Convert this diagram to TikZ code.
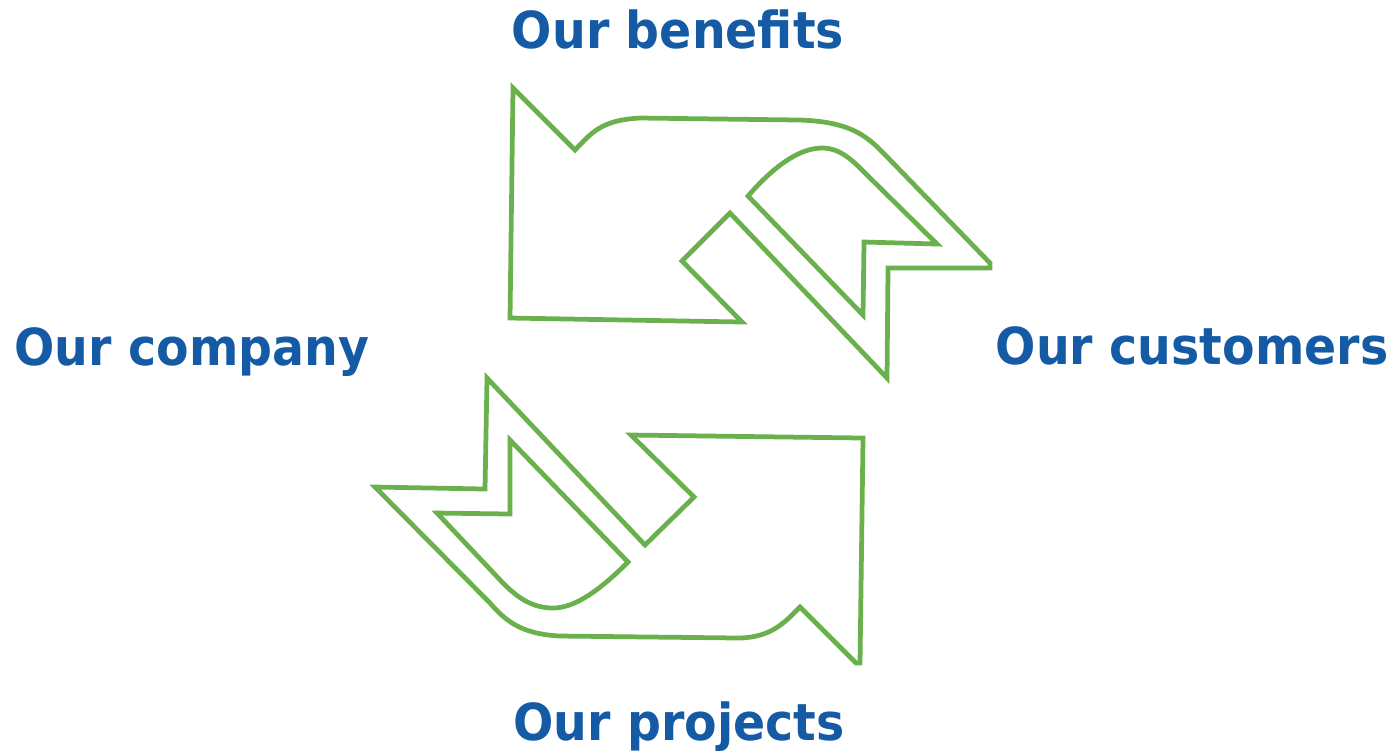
\documentclass[tikz,border=0pt]{standalone}
\usepackage{fontspec}
\setmainfont{DejaVu Sans}
\newfontfamily\labelfont[FakeStretch=0.93]{DejaVu Sans Bold}
\definecolor{labelblue}{RGB}{20,90,164}
\definecolor{arrowgreen}{RGB}{106,176,76}
\begin{document}
\begin{tikzpicture}[x=0.01cm,y=-0.01cm,
  lbl/.style={font=\labelfont\fontsize{14.5}{17}\selectfont, text=labelblue, anchor=base, inner sep=0pt},
  arr/.style={draw=arrowgreen, line width=1.35pt, line join=miter}]
\useasboundingbox (0,0) rectangle (1395,750);
% labels
\node[lbl] (benefits) at (678,48) {Our benefits};
\node[lbl] (company) at (192,365) {Our company};
\node[lbl] (customers) at (1192,364) {Our customers};
\node[lbl] (projects) at (679,740) {Our projects};
% upper arrow, outer outline
\draw[arr] (513,88) -- (575,150)
  .. controls (592,132) and (602,120) .. (640,118)
  -- (800,120)
  .. controls (860,122) and (872,142) .. (895,165)
  -- (990,263) -- (990,268) -- (888,268) -- (887,378)
  -- (730,213) -- (682,261) -- (742,322) -- (510,318) -- cycle;
% upper arrow, inner piece
\draw[arr] (748,196)
  .. controls (775,165) and (800,148) .. (822,148)
  .. controls (840,148) and (852,160) .. (865,173)
  -- (937,244) -- (864,242) -- (863,315) -- cycle;
% lower arrow, outer outline
\draw[arr] (487,378) -- (645,545) -- (694,497) -- (631,435) -- (863,438)
  -- (860,663) -- (856,663) -- (800,607)
  .. controls (785,622) and (772,637) .. (740,638)
  -- (560,636)
  .. controls (520,634) and (505,620) .. (490,603)
  -- (375,487) -- (485,489) -- cycle;
% lower arrow, inner piece
\draw[arr] (510,440) -- (628,562)
  .. controls (600,590) and (575,608) .. (553,608)
  .. controls (530,608) and (515,595) .. (503,583)
  -- (437,513) -- (510,514) -- cycle;
\end{tikzpicture}
\end{document}
